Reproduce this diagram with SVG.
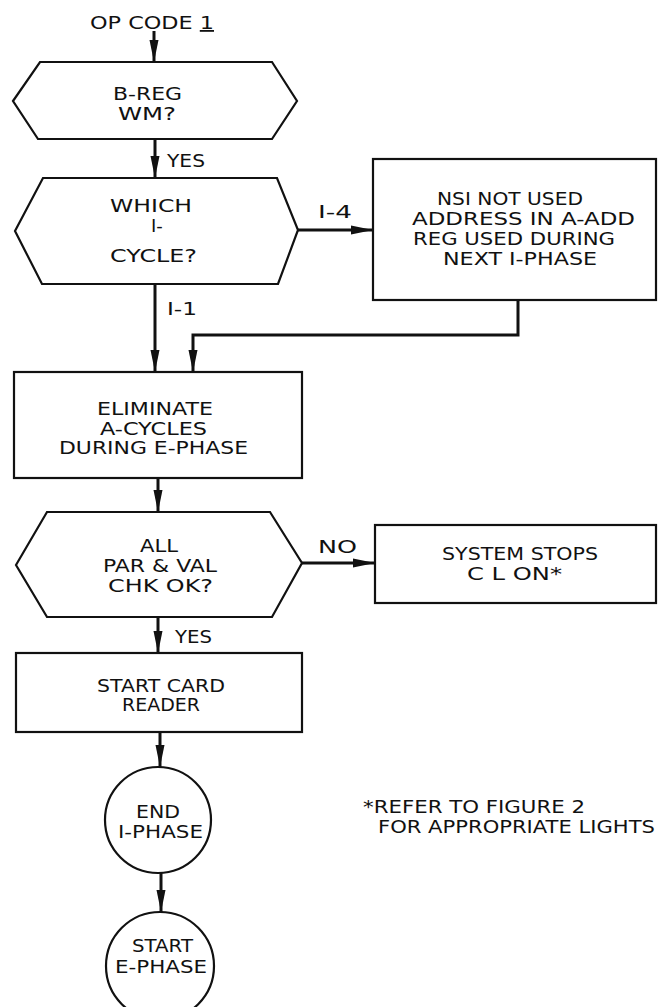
<svg xmlns="http://www.w3.org/2000/svg" width="658" height="1007" viewBox="0 0 658 1007">
<defs>
<marker id="ah" viewBox="0 -5 22 10" refX="22" refY="0" markerWidth="22" markerHeight="10" markerUnits="userSpaceOnUse" orient="auto">
<path d="M0,-4.5 L22,0 L0,4.5 Z" fill="#111"/>
</marker>
</defs>
<style>
.shape{fill:#fff;stroke:#111;stroke-width:2.2}
.conn{fill:none;stroke:#111;stroke-width:3;marker-end:url(#ah)}
text{font-family:"DejaVu Sans","Liberation Sans",sans-serif;font-size:18px;fill:#111}
.note{font-size:17px}
</style>
<rect width="658" height="1007" fill="#fff"/>

<g id="connectors">
<line class="conn" x1="154" y1="31" x2="154" y2="62"/>
<line class="conn" x1="155" y1="139" x2="155" y2="178"/>
<line class="conn" x1="298" y1="230" x2="373" y2="230"/>
<line class="conn" x1="155" y1="284" x2="155" y2="372"/>
<polyline class="conn" points="518,300 518,335 193,335 193,372"/>
<line class="conn" x1="158" y1="478" x2="158" y2="512"/>
<line class="conn" x1="302" y1="563" x2="375" y2="563"/>
<line class="conn" x1="158" y1="617" x2="158" y2="653"/>
<line class="conn" x1="160" y1="732" x2="160" y2="767"/>
<line class="conn" x1="161" y1="872" x2="161" y2="912"/>
<text x="167" y="167" textLength="38" lengthAdjust="spacingAndGlyphs">YES</text>
<text x="318" y="218" textLength="34" lengthAdjust="spacingAndGlyphs">I-4</text>
<text x="167" y="315" textLength="30" lengthAdjust="spacingAndGlyphs">I-1</text>
<text x="318" y="553" textLength="39" lengthAdjust="spacingAndGlyphs">NO</text>
<text x="175" y="643" textLength="37" lengthAdjust="spacingAndGlyphs">YES</text>
</g>

<g id="start">
<text x="90" y="29" font-size="19" textLength="124" lengthAdjust="spacingAndGlyphs">OP CODE <tspan text-decoration="underline">1</tspan></text>
</g>

<g id="breg">
<polygon class="shape" points="13,101 40,62 272,62 297,101 272,139 38,139"/>
<text x="113" y="100" textLength="69" lengthAdjust="spacingAndGlyphs">B-REG</text>
<text x="118" y="120" textLength="58" lengthAdjust="spacingAndGlyphs">WM?</text>
</g>

<g id="which">
<polygon class="shape" points="15,231 43,178 277,178 298,230 278,284 42,284"/>
<text x="110" y="212" textLength="82" lengthAdjust="spacingAndGlyphs">WHICH</text>
<text x="151" y="232">I-</text>
<text x="110" y="262" textLength="87" lengthAdjust="spacingAndGlyphs">CYCLE?</text>
</g>

<g id="nsi">
<rect class="shape" x="373" y="159" width="283" height="141"/>
<text x="437" y="205" textLength="146" lengthAdjust="spacingAndGlyphs">NSI NOT USED</text>
<text x="412" y="225" textLength="223" lengthAdjust="spacingAndGlyphs">ADDRESS IN A-ADD</text>
<text x="413" y="245" textLength="202" lengthAdjust="spacingAndGlyphs">REG USED DURING</text>
<text x="443" y="265" textLength="154" lengthAdjust="spacingAndGlyphs">NEXT I-PHASE</text>
</g>

<g id="eliminate">
<rect class="shape" x="14" y="372" width="288" height="106"/>
<text x="97" y="415" textLength="116" lengthAdjust="spacingAndGlyphs">ELIMINATE</text>
<text x="100" y="435" textLength="107" lengthAdjust="spacingAndGlyphs">A-CYCLES</text>
<text x="59" y="454" textLength="189" lengthAdjust="spacingAndGlyphs">DURING E-PHASE</text>
</g>

<g id="parval">
<polygon class="shape" points="16,565 47,512 270,512 302,563 272,617 47,617"/>
<text x="140" y="552" textLength="38" lengthAdjust="spacingAndGlyphs">ALL</text>
<text x="103" y="572" textLength="114" lengthAdjust="spacingAndGlyphs">PAR &amp; VAL</text>
<text x="108" y="592" textLength="105" lengthAdjust="spacingAndGlyphs">CHK OK?</text>
</g>

<g id="stops">
<rect class="shape" x="375" y="525" width="281" height="78"/>
<text x="442" y="560" textLength="156" lengthAdjust="spacingAndGlyphs">SYSTEM STOPS</text>
<text x="467" y="580" textLength="95" lengthAdjust="spacingAndGlyphs">C L ON*</text>
</g>

<g id="cardreader">
<rect class="shape" x="16" y="653" width="286" height="79"/>
<text x="97" y="692" textLength="128" lengthAdjust="spacingAndGlyphs">START CARD</text>
<text x="122" y="711" textLength="78" lengthAdjust="spacingAndGlyphs">READER</text>
</g>

<g id="endi">
<circle class="shape" cx="158" cy="820" r="53"/>
<text x="136" y="818" textLength="44" lengthAdjust="spacingAndGlyphs">END</text>
<text x="118" y="838" textLength="85" lengthAdjust="spacingAndGlyphs">I-PHASE</text>
</g>

<g id="starte">
<circle class="shape" cx="160" cy="966" r="54"/>
<text x="132" y="952" textLength="61" lengthAdjust="spacingAndGlyphs">START</text>
<text x="115" y="973" textLength="92" lengthAdjust="spacingAndGlyphs">E-PHASE</text>
</g>

<g id="note">
<text class="note" x="363" y="813" textLength="222" lengthAdjust="spacingAndGlyphs">*REFER TO FIGURE 2</text>
<text class="note" x="378" y="833" textLength="277" lengthAdjust="spacingAndGlyphs">FOR APPROPRIATE LIGHTS</text>
</g>
</svg>
